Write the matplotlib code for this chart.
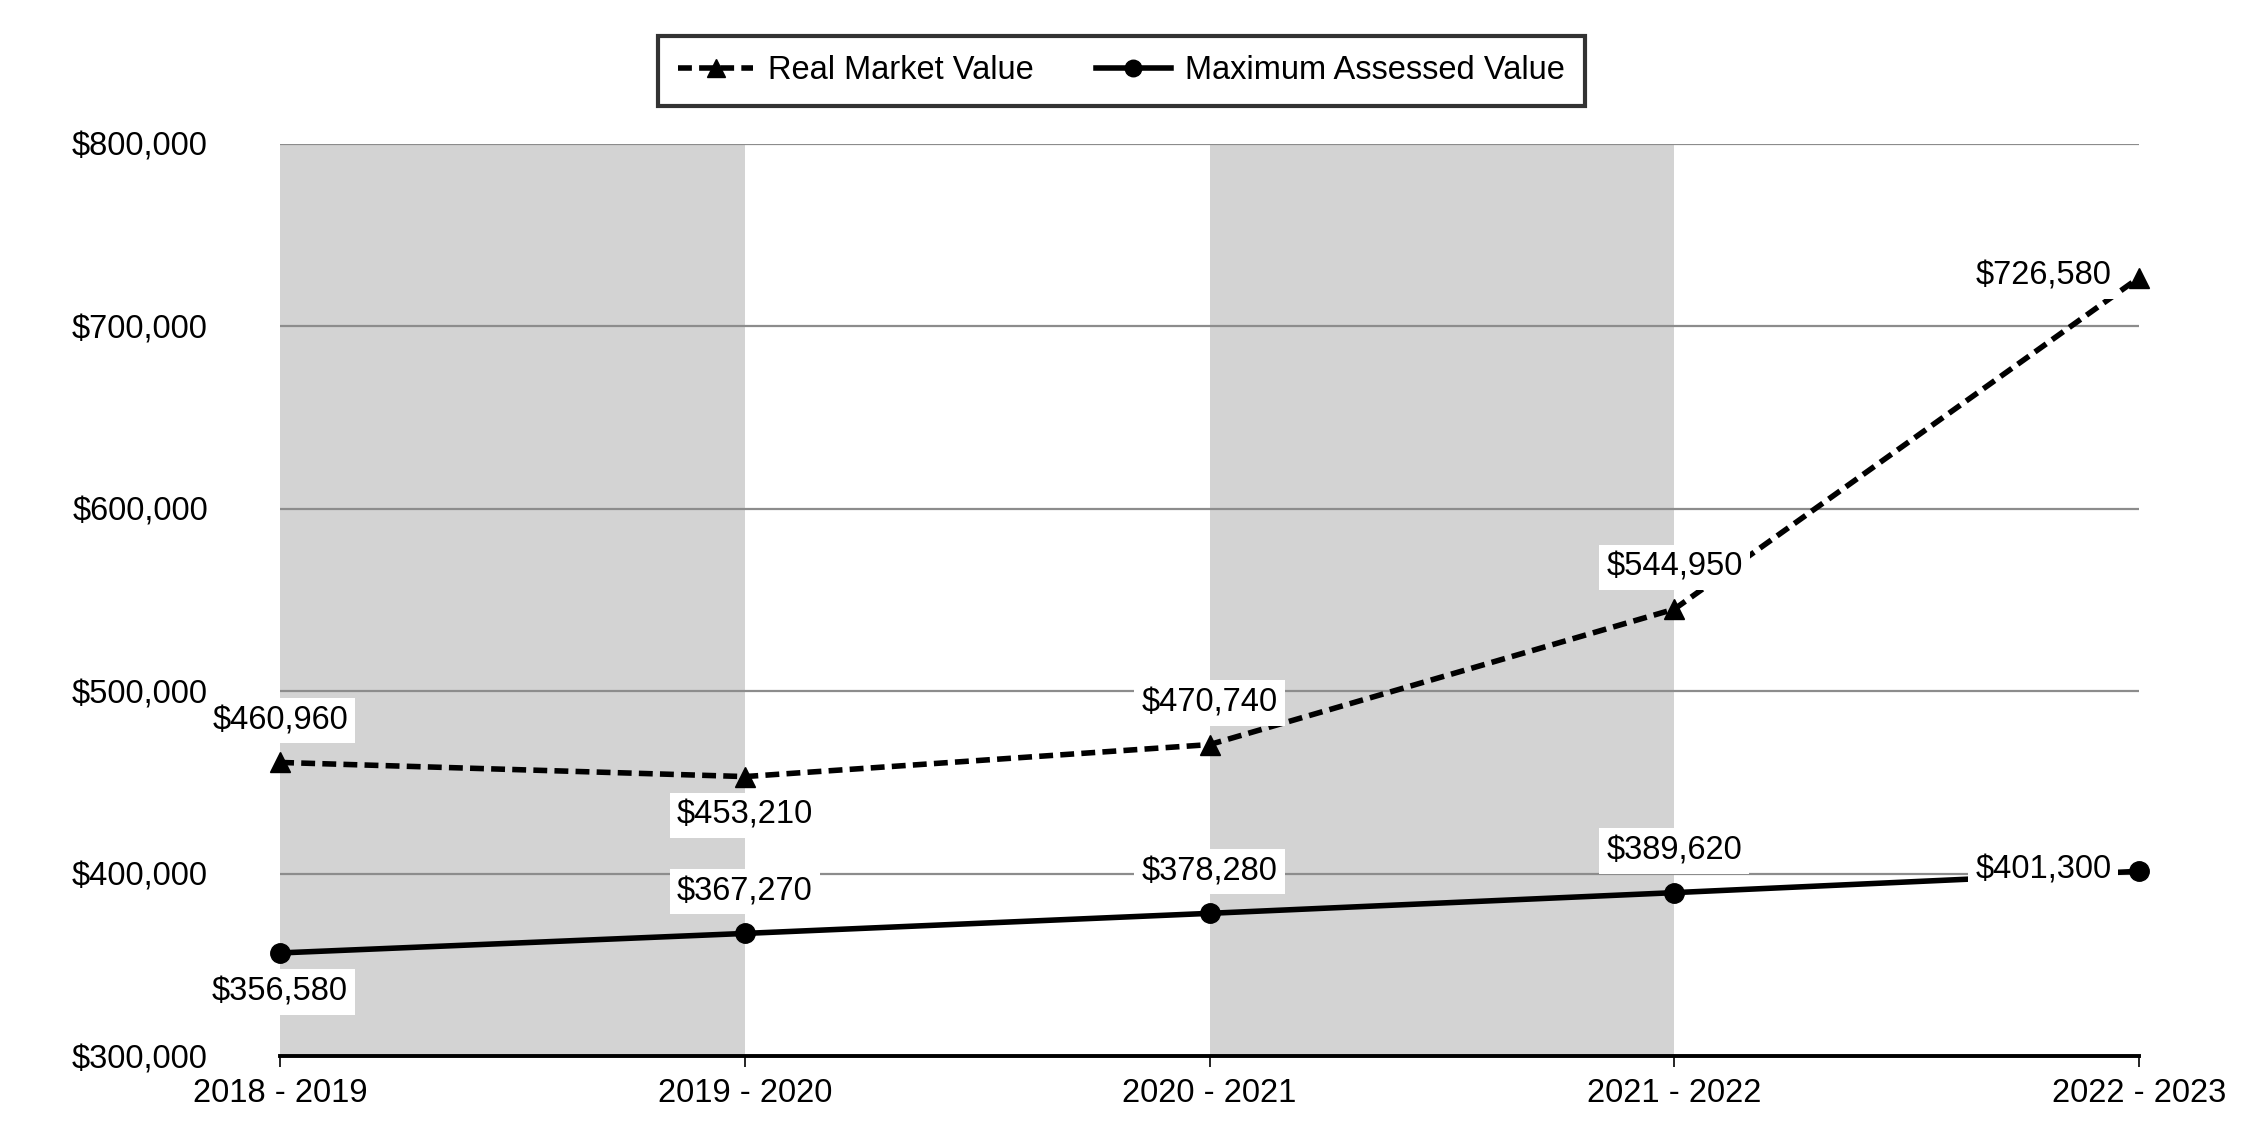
import matplotlib
matplotlib.use("Agg")
import matplotlib.pyplot as plt
from matplotlib.ticker import FuncFormatter

plt.rcParams['font.family'] = ['Liberation Sans', 'DejaVu Sans']

categories = ["2018 - 2019", "2019 - 2020", "2020 - 2021", "2021 - 2022", "2022 - 2023"]
real_market_value = [460960, 453210, 470740, 544950, 726580]
max_assessed_value = [356580, 367270, 378280, 389620, 401300]
rmv_label_pos = ["above", "below", "above", "above", "left"]
mav_label_pos = ["below", "above", "above", "above", "left"]
y_ticks = [300000, 400000, 500000, 600000, 700000, 800000]

fig = plt.figure(figsize=(22.5, 11.4), dpi=100)
ax = fig.add_axes([0.1245, 0.0735, 0.8262, 0.8005])

x = list(range(len(categories)))

# alternating shaded bands
for i in range(0, len(categories) - 1, 2):
    ax.axvspan(x[i], x[i + 1], color="#d3d3d3", zorder=0, lw=0)

for yv in y_ticks[1:]:
    ax.axhline(yv, color="#8c8c8c", lw=1.6, zorder=1)

fs = 23.5
l1, = ax.plot(x, real_market_value, color="black", lw=4.0, linestyle=(0, (2.5, 1.3)),
              marker="^", markersize=15, zorder=3, clip_on=False, label="Real Market Value")
l2, = ax.plot(x, max_assessed_value, color="black", lw=4.0, linestyle="-",
              marker="o", markersize=14, zorder=3, clip_on=False, label="Maximum Assessed Value")

def label(xi, yi, pos):
    txt = "${:,.0f}".format(yi)
    if pos == "above":
        off, ha, va = (0, 30), "center", "center"
    elif pos == "below":
        off, ha, va = (0, -28), "center", "center"
    else:
        off, ha, va = (-20, 1), "right", "center"
    ax.annotate(txt, (xi, yi), xytext=off, textcoords="offset points", ha=ha, va=va,
                fontsize=fs, zorder=5,
                bbox=dict(boxstyle="square,pad=0.22", fc="white", ec="none"))

for xi, yi, p in zip(x, real_market_value, rmv_label_pos):
    label(xi, yi, p)
for xi, yi, p in zip(x, max_assessed_value, mav_label_pos):
    label(xi, yi, p)

ax.set_xlim(0, len(categories) - 1)
ax.set_ylim(y_ticks[0], y_ticks[-1])
ax.set_xticks(x)
ax.set_xticklabels(categories, fontsize=fs)
ax.set_yticks(y_ticks)
ax.yaxis.set_major_formatter(FuncFormatter(lambda v, p: "${:,.0f}".format(v)))
ax.tick_params(axis="y", length=0, pad=52, labelsize=fs)
ax.tick_params(axis="x", length=8, width=1.2, color="black", pad=8, labelsize=fs)
for s in ["left", "right", "top"]:
    ax.spines[s].set_visible(False)
ax.spines["bottom"].set_linewidth(2.8)
ax.spines["bottom"].set_zorder(4)
ax.set_facecolor("white")

leg = fig.legend(handles=[l1, l2], loc="center", bbox_to_anchor=(0.4985, 0.938),
                 ncol=2, fontsize=fs, frameon=True, fancybox=False, edgecolor="black",
                 handlelength=2.3, columnspacing=1.9, handletextpad=0.45,
                 borderpad=0.6, markerscale=0.85)
leg.get_frame().set_linewidth(3)

fig.savefig("out.png", dpi=100)
